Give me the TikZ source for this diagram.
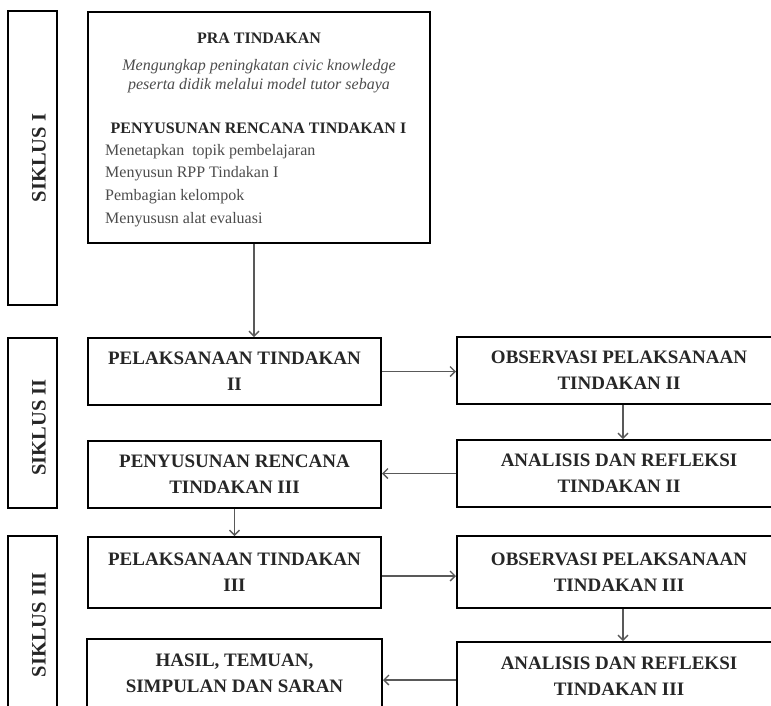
\documentclass[tikz,border=0pt]{standalone}
\usepackage{fontspec}
\setmainfont{Liberation Serif}
\usetikzlibrary{arrows.meta}
\begin{document}
\begin{tikzpicture}[x=1pt,y=-1pt,
  box/.style={draw=black, line width=2pt, inner sep=0pt, align=center,
    font=\bfseries\fontsize{19}{26}\selectfont, text=black!85},
  sikluslabel/.style={rotate=90, inner sep=0pt, text=black!85,
    font=\bfseries\fontsize{20.5}{24}\selectfont},
  head/.style={inner sep=0pt, text=black!85, font=\bfseries\fontsize{16}{20}\selectfont},
  itl/.style={inner sep=0pt, text=black!70, font=\itshape\fontsize{16}{20}\selectfont},
  item/.style={inner sep=0pt, anchor=base west, text=black!70, font=\fontsize{16}{20}\selectfont},
  arr/.style={draw=black!65, line width=1.3pt, -{Straight Barb[length=5pt,width=10pt]}},
]
\useasboundingbox (0,0) rectangle (771,705);

% Siklus frames
\node[box, minimum width=49pt, minimum height=294pt] (s1) at (32.5,158) {};
\node[box, minimum width=49pt, minimum height=170pt] (s2) at (32.5,423) {};
\node[box, minimum width=49pt, minimum height=178pt] (s3) at (32.5,625) {};
\node[sikluslabel] (s1t) at (39,158) {SIKLUS I};
\node[sikluslabel] (s2t) at (39,427.5) {SIKLUS II};
\node[sikluslabel] (s3t) at (39,625) {SIKLUS III};

% Pra tindakan box
\node[box, minimum width=342pt, minimum height=231pt] (pra) at (259,127.5) {};
\node[head] (prat) at (259,38) {PRA TINDAKAN};
\node[itl] (i1) at (259,67) {Mengungkap peningkatan civic knowledge};
\node[itl] (i2) at (259,86) {peserta didik melalui model tutor sebaya};
\node[head] (pen1) at (258.5,128) {PENYUSUNAN RENCANA TINDAKAN I};
\node[item] (l1) at (105,155.5) {Menetapkan\ \ topik pembelajaran};
\node[item] (l2) at (105,177.5) {Menyusun RPP Tindakan I};
\node[item] (l3) at (105,200.5) {Pembagian kelompok};
\node[item] (l4) at (105,223.5) {Menyususn alat evaluasi};

% Siklus II
\node[box, minimum width=293pt, minimum height=67pt] (p2) at (234.5,371.5) {PELAKSANAAN TINDAKAN\\II};
\node[box, minimum width=324pt, minimum height=67pt] (o2) at (619,370.5) {OBSERVASI PELAKSANAAN\\TINDAKAN II};
\node[box, minimum width=324pt, minimum height=67pt] (a2) at (619,473.5) {ANALISIS DAN REFLEKSI\\TINDAKAN II};
\node[box, minimum width=293pt, minimum height=67pt] (r3) at (234.5,474.5) {PENYUSUNAN RENCANA\\TINDAKAN III};

% Siklus III
\node[box, minimum width=293pt, minimum height=71pt] (p3) at (234.5,572.5) {PELAKSANAAN TINDAKAN\\III};
\node[box, minimum width=324pt, minimum height=72pt] (o3) at (619,572) {OBSERVASI PELAKSANAAN\\TINDAKAN III};
\node[box, minimum width=324pt, minimum height=68pt] (a3) at (619,676) {ANALISIS DAN REFLEKSI\\TINDAKAN III};
\node[box, minimum width=295pt, minimum height=69pt] (h) at (234.5,673.5) {HASIL, TEMUAN,\\SIMPULAN DAN SARAN};

% connectors
\coordinate (k1) at (254,0);
\coordinate (k2) at (623,0);
\coordinate (k3) at (0,576);
\coordinate (k4) at (0,680);
\draw[arr] (pra.south -| k1) -- (p2.north -| k1);
\draw[arr] (p2.east) -- (o2.west |- p2.east);
\draw[arr] (o2.south -| k2) -- (a2.north -| k2);
\draw[arr] (a2.west) -- (r3.east |- a2.west);
\draw[arr] (r3.south) -- (p3.north);
\draw[arr] (p3.east |- k3) -- (o3.west |- k3);
\draw[arr] (o3.south -| k2) -- (a3.north -| k2);
\draw[arr] (a3.west |- k4) -- (h.east |- k4);
\end{tikzpicture}
\end{document}
